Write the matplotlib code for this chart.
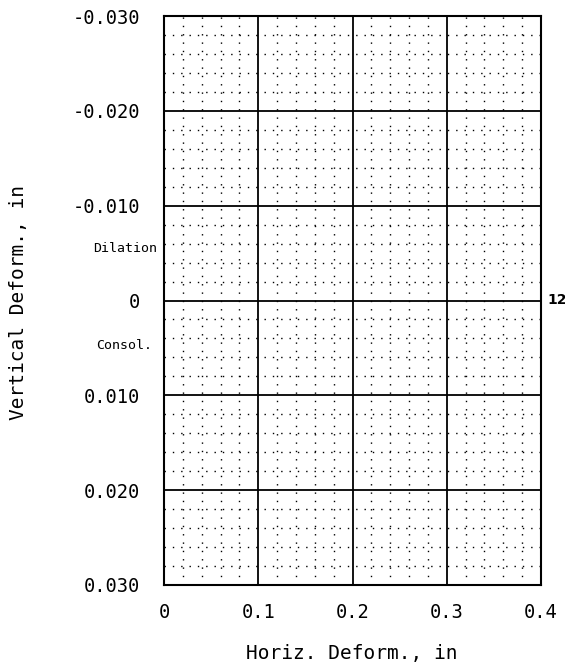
import matplotlib
matplotlib.use("Agg")
import matplotlib.pyplot as plt
import numpy as np

# Data / labels
x_ticks = [0.0, 0.1, 0.2, 0.3, 0.4]
x_ticklabels = ["0", "0.1", "0.2", "0.3", "0.4"]
y_ticks = [-0.030, -0.020, -0.010, 0.0, 0.010, 0.020, 0.030]
y_ticklabels = ["-0.030", "-0.020", "-0.010", "0", "0.010", "0.020", "0.030"]
x_minor = [0.02, 0.04, 0.06, 0.08]
y_minor_step = 0.002
curve_label = "12"
x_label = "Horiz. Deform., in"
y_label = "Vertical Deform., in"

W, H = 565, 664
fig = plt.figure(figsize=(W / 100, H / 100), dpi=100)
left, right, top, bottom = 164, 541, 16, 585
ax = fig.add_axes([left / W, 1 - bottom / H, (right - left) / W, (bottom - top) / H])

ax.set_xlim(0, 0.4)
ax.set_ylim(0.030, -0.030)

font = "DejaVu Sans Mono"
ax.set_xticks(x_ticks)
ax.set_xticklabels(x_ticklabels, family=font, fontsize=13.5)
ax.set_yticks(y_ticks)
ax.set_yticklabels(y_ticklabels, family=font, fontsize=13.5)

xm = np.array([m + b for b in x_ticks[:-1] for m in x_minor])
ym = np.arange(-0.030, 0.0300001, y_minor_step)
ym = np.array([v for v in ym if abs(round(v / 0.01) * 0.01 - v) > 1e-6])
ax.set_xticks(xm, minor=True)
ax.set_yticks(ym, minor=True)

ax.tick_params(which="both", length=0)
ax.tick_params(axis="x", pad=13)
ax.tick_params(axis="y", pad=17)

ax.grid(True, which="major", color="black", linewidth=1.3)
ax.grid(True, which="minor", color="black", linewidth=1.0, linestyle=(0, (1, 5)))
ax.set_axisbelow(False)
for s in ax.spines.values():
    s.set_linewidth(1.5)

ax.set_xlabel(x_label, family=font, fontsize=14)
ax.set_ylabel(y_label, family=font, fontsize=14)
ax.xaxis.set_label_coords((352 - left) / (right - left), -(644 - bottom) / (bottom - top))
ax.yaxis.set_label_coords(-(left - 28) / (right - left), (bottom - 302) / (bottom - top))

ax.text(-(left - 157) / (right - left), -0.0055, "Dilation", transform=ax.get_yaxis_transform(),
        ha="right", va="center", family=font, fontsize=9.5)
ax.text(-(left - 152) / (right - left), 0.0047, "Consol.", transform=ax.get_yaxis_transform(),
        ha="right", va="center", family=font, fontsize=9.5)
ax.text(547 / W, 1 - 300 / H, curve_label, transform=fig.transFigure, ha="left", va="center",
        family="DejaVu Sans", fontsize=10, fontweight="bold")

fig.savefig("out.png", dpi=100)
